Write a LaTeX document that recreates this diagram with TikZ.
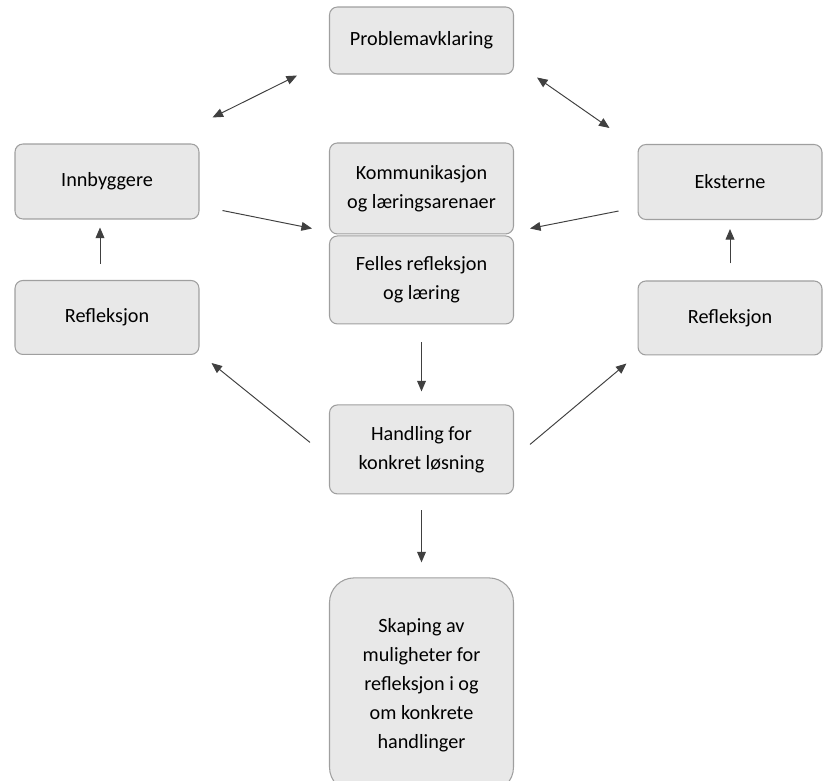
\documentclass[tikz,border=0pt]{standalone}
\usepackage{fontspec}
\setmainfont{Carlito}
\usepackage{xcolor}
\usetikzlibrary{arrows.meta, positioning, calc}

\begin{document}
\begin{tikzpicture}[x=0.02cm, y=-0.02cm, on grid,
    box/.style={rectangle, rounded corners=4.5pt, draw=gray!75, fill=gray!18, line width=0.6pt, minimum width=3.68cm, align=center, font=\fontsize{11.5}{16.5}\selectfont},
    link/.style={draw=black!75, line width=0.55pt, -{Triangle[length=6pt, width=5pt]}},
    both/.style={link, {Triangle[length=6pt, width=5pt]}-{Triangle[length=6pt, width=5pt]}}]

        \useasboundingbox (0,0) rectangle (827,780);

        \node[box, minimum height=1.34cm] (prob) at (421.5,40.5) {Problemavklaring};

        \node[box, minimum height=1.82cm, below=2.96cm of prob] (komm) {Kommunikasjon\\og læringsarenaer};
        \node[box, minimum height=1.76cm, below=1.83cm of komm] (felles) {Felles refleksjon\\og læring};
        \node[box, minimum height=1.78cm, below=3.39cm of felles] (hand) {Handling for\\konkret løsning};
        \node[box, minimum height=4.28cm, rounded corners=14pt, below=4.71cm of hand] (skap) {Skaping av\\muligheter for\\refleksjon i og\\om konkrete\\handlinger};

        \node[box, minimum height=1.5cm] (innb) at (107,181.5) {Innbyggere};
        \node[box, minimum height=1.48cm, below=2.72cm of innb] (refl-v) {Refleksjon};

        \node[box, minimum height=1.5cm] (ekst) at (730,182) {Eksterne};
        \node[box, minimum height=1.48cm, below=2.72cm of ekst] (refl-h) {Refleksjon};

        % problemavklaring
        \draw[both] ($(innb.north east)+(13,-26)$) -- ($(prob.south west)+(-32,1)$);
        \draw[both] ($(prob.south east)+(23,3)$) -- ($(ekst.north west)+(-28,-16)$);

        % inn mot arenaene
        \draw[link] ($(innb.south east)+(23,-9)$) -- ($(komm.south west)+(-17,-6)$);
        \draw[link] ($(ekst.south west)+(-19,-9)$) -- ($(komm.south east)+(16,-6)$);
        \draw[link] ($(refl-v.north)+(-7,-16)$) -- ($(innb.south)+(-7,8)$);
        \draw[link] ($(refl-h.north)+(0,-17)$) -- ($(ekst.south)+(0,9)$);

        % midtaksen
        \draw[link] ($(felles.south)+(0,18)$) -- ($(hand.north)+(0,-13)$);
        \draw[link] ($(hand.south)+(0,16)$) -- ($(skap.north)+(0,-15)$);
        \draw[link] ($(hand.west)+(-19,-7)$) -- ($(refl-v.south east)+(12,8)$);
        \draw[link] ($(hand.east)+(16,-5)$) -- ($(refl-h.south west)+(-11,8)$);

    \end{tikzpicture}
\end{document}
